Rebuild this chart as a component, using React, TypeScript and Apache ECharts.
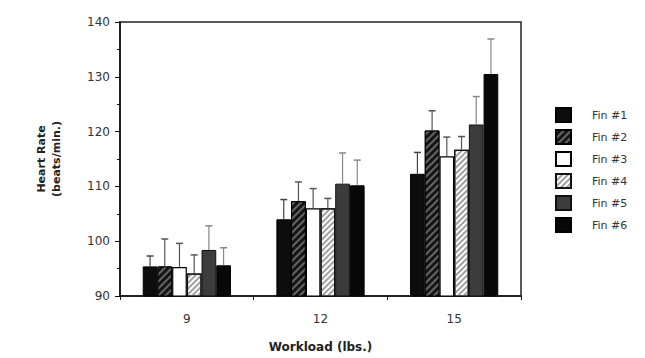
import React, { useEffect, useRef } from 'react';
import * as echarts from 'echarts';

const categories = ['9', '12', '15'];
const finNames = ['Fin #1', 'Fin #2', 'Fin #3', 'Fin #4', 'Fin #5', 'Fin #6'];

const fin1 = [95.4, 104.0, 112.3];
const fin2 = [95.4, 107.3, 120.2];
const fin3 = [95.3, 106.0, 115.5];
const fin4 = [94.1, 106.0, 116.7];
const fin5 = [98.4, 110.5, 121.3];
const fin6 = [95.6, 110.2, 130.5];

const fin1Err = [97.3, 107.6, 116.2];
const fin2Err = [100.4, 110.8, 123.8];
const fin3Err = [99.6, 109.6, 119.0];
const fin4Err = [97.5, 107.8, 119.1];
const fin5Err = [102.8, 116.1, 126.4];
const fin6Err = [98.8, 114.8, 136.9];

const yTicks = { min: 90, max: 140, interval: 10 };

const values = [fin1, fin2, fin3, fin4, fin5, fin6];
const errors = [fin1Err, fin2Err, fin3Err, fin4Err, fin5Err, fin6Err];

const BAR_FRAC = 0.11;

const styles: any[] = [
  { color: '#0d0d0d', borderColor: '#000', borderWidth: 1 },
  {
    color: '#151515', borderColor: '#000', borderWidth: 1,
    decal: { symbol: 'rect', symbolSize: 1, color: 'rgba(110,110,110,0.9)', dashArrayX: [1, 0], dashArrayY: [1.5, 3], rotation: -Math.PI / 4 },
  },
  { color: '#ffffff', borderColor: '#000', borderWidth: 1.2 },
  {
    color: '#ffffff', borderColor: '#111', borderWidth: 1.2,
    decal: { symbol: 'rect', symbolSize: 1, color: 'rgba(150,150,150,0.9)', dashArrayX: [1, 0], dashArrayY: [2, 2], rotation: -Math.PI / 4 },
  },
  { color: '#3c3c3c', borderColor: '#111', borderWidth: 1 },
  { color: '#080808', borderColor: '#000', borderWidth: 1 },
];

const errColors = ['#444', '#555', '#555', '#555', '#888', '#888'];

export default function App() {
  const ref = useRef<HTMLDivElement>(null);
  useEffect(() => {
    if (!ref.current) return;
    const chart = echarts.init(ref.current, undefined, { renderer: 'svg' });
    const font = 'DejaVu Sans';
    const barSeries = finNames.map((name, i) => ({
      name,
      type: 'bar',
      data: values[i],
      barWidth: (BAR_FRAC * 100) + '%',
      barGap: '0%',
      itemStyle: styles[i],
      z: 2,
    }));
    const errSeries = finNames.map((name, i) => ({
      name: 'err' + i,
      type: 'custom',
      z: 3,
      data: categories.map((_, c) => [c, values[i][c], errors[i][c]]),
      encode: { x: 0, y: [1, 2] },
      renderItem: (params: any, api: any) => {
        const c = api.value(0);
        const bw = api.size([1, 0])[0] * BAR_FRAC;
        const base = api.coord([c, api.value(1)]);
        const top = api.coord([c, api.value(2)]);
        const x = base[0] + (i - 2.5) * bw;
        const cap = 3.5;
        return {
          type: 'group',
          children: [
            { type: 'line', shape: { x1: x, y1: base[1], x2: x, y2: top[1] }, style: { stroke: errColors[i], lineWidth: 1.2 } },
            { type: 'line', shape: { x1: x - cap, y1: top[1], x2: x + cap, y2: top[1] }, style: { stroke: errColors[i], lineWidth: 1.5 } },
          ],
        };
      },
    }));
    chart.setOption({
      animation: false,
      backgroundColor: '#fff',
      grid: { left: 120, right: 124, top: 22, bottom: 61, show: true, borderColor: '#222', borderWidth: 1.5 },
      legend: {
        data: finNames,
        orient: 'vertical',
        left: 550,
        top: 102,
        icon: 'rect',
        itemWidth: 15,
        itemHeight: 14,
        itemGap: 6,
        textStyle: { fontFamily: font, fontSize: 11, color: '#333', padding: [0, 0, 0, 16] },
      },
      xAxis: {
        type: 'category',
        data: categories,
        name: 'Workload (lbs.)',
        nameLocation: 'middle',
        nameGap: 45,
        nameTextStyle: { fontFamily: font, fontSize: 12, fontWeight: 'bold', color: '#222' },
        axisLine: { lineStyle: { color: '#111', width: 1.5 } },
        axisTick: { show: true, length: 4, lineStyle: { color: '#111' } },
        axisLabel: { fontFamily: font, fontSize: 12, color: '#333', margin: 17 },
      },
      yAxis: {
        type: 'value',
        min: yTicks.min,
        max: yTicks.max,
        interval: yTicks.interval,
        name: 'Heart Rate\n(beats/min.)',
        nameLocation: 'middle',
        nameRotate: 90,
        nameGap: 56,
        nameTextStyle: { fontFamily: font, fontSize: 11, fontWeight: 'bold', color: '#222', lineHeight: 15 },
        axisLine: { show: true, lineStyle: { color: '#111', width: 1.5 } },
        axisTick: { show: true, length: 5, lineStyle: { color: '#111' } },
        minorTick: { show: true, splitNumber: 2, length: 3, lineStyle: { color: '#111' } },
        splitLine: { show: false },
        axisLabel: { fontFamily: font, fontSize: 12, color: '#333', margin: 10 },
      },
      series: [...barSeries, ...errSeries],
    });
    return () => chart.dispose();
  }, []);
  return <div ref={ref} style={{ width: 645, height: 358, position: 'absolute', left: 0, top: 0 }} />;
}
